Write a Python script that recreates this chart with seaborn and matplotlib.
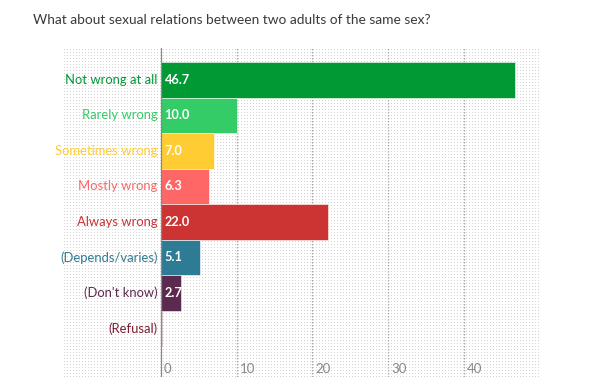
import numpy as np
import pandas as pd
import matplotlib
matplotlib.use("Agg")
import matplotlib.pyplot as plt
import seaborn as sns

categories = [
    "Not wrong at all",
    "Rarely wrong",
    "Sometimes wrong",
    "Mostly wrong",
    "Always wrong",
    "(Depends/varies)",
    "(Don't know)",
    "(Refusal)",
]
values = [46.7, 10.0, 7.0, 6.3, 22.0, 5.1, 2.7, 0.2]
value_labels = ["46.7", "10.0", "7.0", "6.3", "22.0", "5.1", "2.7", ""]
colors = ["#009933", "#33cc66", "#ffcc33", "#ff6666",
          "#cc3333", "#2e7b95", "#5c2a4e", "#7d1f33"]
x_ticks = [0, 10, 20, 30, 40]

sns.set_theme(style="white")
plt.rcParams["font.family"] = ["Lato", "DejaVu Sans"]

df = pd.DataFrame({"category": categories, "value": values})

fig = plt.figure(figsize=(6, 3.9), dpi=100)
ax = fig.add_axes([63 / 600, 13 / 390, 477 / 600, 329 / 390])

xmin, xmax = -12.9, 50
ymin, ymax = -0.9, 8.37

# dotted background
dots = np.ones((329, 477))
dots[1::3, 1::3] = 0.83
ax.imshow(dots, cmap="gray", vmin=0, vmax=1, extent=(xmin, xmax, ymax, ymin),
          aspect="auto", interpolation="nearest", zorder=0)

for t in x_ticks[1:]:
    ax.axvline(t, color="#aaaaaa", lw=0.9, ls=(0, (1.2, 1.2)), zorder=1)
ax.axvline(0, color="#888888", lw=0.9, zorder=3)

sns.barplot(data=df, x="value", y="category", hue="category", palette=colors,
            order=categories, hue_order=categories, orient="h", width=1.0,
            saturation=1, legend=False, edgecolor="white", linewidth=0.4,
            ax=ax, zorder=2)

for i, (cat, lab) in enumerate(zip(categories, value_labels)):
    ax.text(-0.4, i, cat, ha="right", va="center", color=colors[i], fontsize=9.4)
    if lab:
        ax.text(0.5, i, lab, ha="left", va="center", color="white",
                fontsize=9.2, fontweight="bold")

for t in x_ticks:
    ax.text(t + 0.4, ymax - 0.22, str(t), ha="left", va="center",
            color="#888888", fontsize=9.5)

ax.set_xlim(xmin, xmax)
ax.set_ylim(ymax, ymin)
ax.set_xticks([])
ax.set_yticks([])
ax.set_xlabel("")
ax.set_ylabel("")
for s in ax.spines.values():
    s.set_visible(False)

fig.text(33 / 600, 1 - 20 / 390, "What about sexual relations between two adults of the same sex?",
         ha="left", va="center", fontsize=9.9, color="#3a3a3a")

fig.savefig("out.png", dpi=100)
